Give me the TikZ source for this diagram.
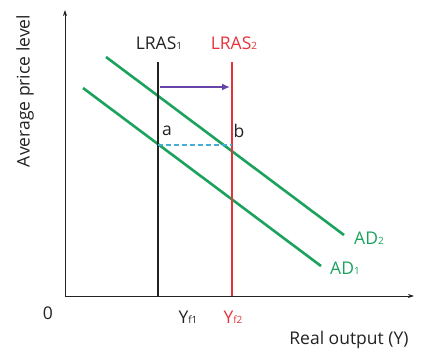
\documentclass[tikz,border=0pt]{standalone}
\usepackage{fontspec}
\setmainfont{Open Sans}
\usetikzlibrary{arrows.meta,positioning}
\definecolor{ink}{HTML}{222222}
\definecolor{adgreen}{HTML}{1BA35E}
\definecolor{lrasred}{HTML}{E5333B}
\definecolor{shiftpurple}{HTML}{6543A8}
\definecolor{gapcyan}{HTML}{45AFD3}
\tikzset{
  lbl/.style={font=\fontsize{17.5}{20}\selectfont, text=ink, inner sep=1pt},
  axis/.style={-{Stealth[length=6pt,width=4pt]}, line width=0.9pt, draw=ink},
  lras/.style={line width=2.6pt},
  adline/.style={line width=2.6pt, draw=adgreen},
  shiftarrow/.style={-{Latex[length=8pt,width=7pt]}, line width=2pt, draw=shiftpurple},
  gap/.style={dashed, dash pattern=on 5pt off 3pt, line width=1.3pt, draw=gapcyan},
}
\newcommand{\sub}[1]{{\fontsize{10}{10}\selectfont #1}}
\begin{document}
\begin{tikzpicture}[x=1pt,y=-1pt]
  \useasboundingbox (0,0) rectangle (421,353);

  % axes
  \coordinate (origin) at (65,296);
  \coordinate (ytop) at (65,10);
  \coordinate (xend) at (414,296);
  \draw[axis] (origin) -- (ytop);
  \draw[axis] (origin) -- (xend);

  % aggregate demand
  \coordinate (ad1s) at (83,88);
  \coordinate (ad1e) at (321,266);
  \coordinate (ad2s) at (106,57);
  \coordinate (ad2e) at (344,235);
  \draw[adline] (ad1s) -- (ad1e);
  \draw[adline] (ad2s) -- (ad2e);

  % long-run supply
  \coordinate (l1top) at (158,62);
  \coordinate (l1bot) at (158,296);
  \coordinate (l2top) at (232,62);
  \coordinate (l2bot) at (232,296);
  \draw[lras, draw=ink] (l1top) -- (l1bot);
  \draw[lras, draw=lrasred] (l2top) -- (l2bot);

  % shift and gap
  \coordinate (sfrom) at (160,87);
  \coordinate (sto) at (230,87);
  \draw[shiftarrow] (sfrom) -- (sto);
  \coordinate (pa) at (158,145);
  \coordinate (pb) at (232,145);
  \draw[gap] (pa) -- (pb);

  % labels
  \node[lbl] (lras1) at (159,43) {LRAS\sub{1}};
  \node[lbl, text=lrasred] (lras2) at (234,43) {LRAS\sub{2}};
  \node[lbl] (ptA) at (167,131) {a};
  \node[lbl] (ptB) at (239,131) {b};
  \node[lbl, text=adgreen] (ad2) at (369,238) {AD\sub{2}};
  \node[lbl, text=adgreen] (ad1) at (345,268) {AD\sub{1}};
  \node[lbl] (zero) at (48,313) {0};
  \node[lbl] (yf1) at (188,317) {Y\sub{f1}};
  \node[lbl, text=lrasred] (yf2) at (233,317) {Y\sub{f2}};
  \node[lbl] (xlab) at (349,340) {Real output (Y)};
  \node[lbl, rotate=90] (ylab) at (25,91) {Average price level};
\end{tikzpicture}
\end{document}
